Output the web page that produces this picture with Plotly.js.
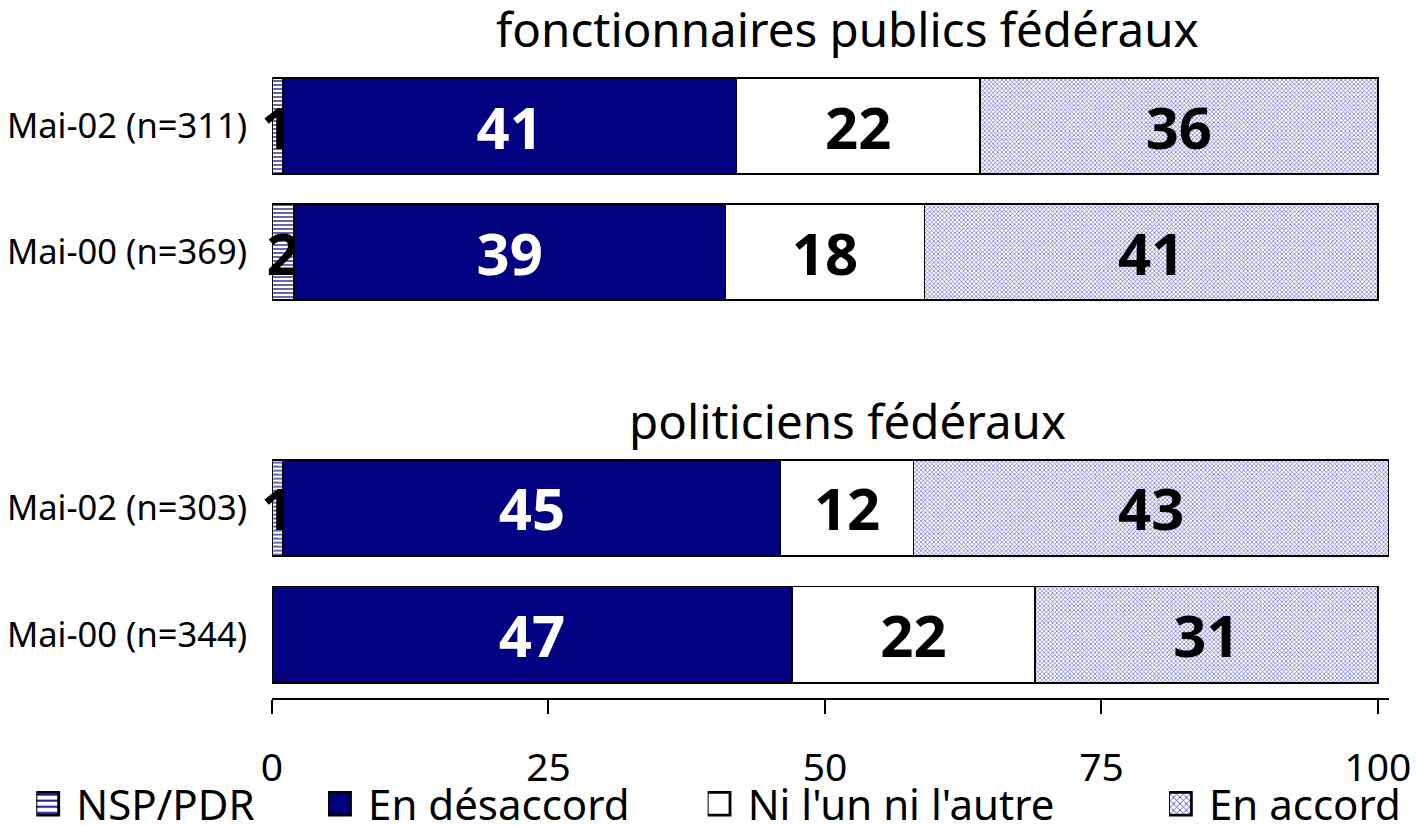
<!DOCTYPE html>
<html>
<head>
<meta charset="utf-8">
<script src="https://cdn.plot.ly/plotly-3.0.1.min.js"></script>
<style>html,body{margin:0;padding:0;background:#fff;}#chart{width:1416px;height:825px;}</style>
</head>
<body>
<div id="chart"></div>
<script>
const seriesNames = ["NSP/PDR", "En désaccord", "Ni l'un ni l'autre", "En accord"];
const titleTop = "fonctionnaires publics fédéraux";
const titleBottom = "politiciens fédéraux";
const catsTop = ["Mai-02 (n=311)", "Mai-00 (n=369)"];
const catsBottom = ["Mai-02 (n=303)", "Mai-00 (n=344)"];
const nspTop = [1, 2];
const desTop = [41, 39];
const niTop = [22, 18];
const accTop = [36, 41];
const nspBottom = [1, 0];
const desBottom = [45, 47];
const niBottom = [12, 22];
const accBottom = [43, 31];
const xTicks = [0, 25, 50, 75, 100];

const FONT = "'Noto Sans', 'Open Sans', sans-serif";
const lineStyle = {color: '#000', width: 1.5};
const styles = [
  {color: '#ffffff', pattern: {shape: '-', fgcolor: '#000080', bgcolor: '#ffffff', size: 4, solidity: 0.3}, txt: '#000'},
  {color: '#000080', txt: '#fff'},
  {color: '#ffffff', txt: '#000'},
  {color: '#ffffff', pattern: {shape: 'x', fgcolor: '#4848cc', bgcolor: '#ffffff', size: 3, solidity: 0.35}, txt: '#000'}
];
const legendNames = ['legend', 'legend2', 'legend3', 'legend4'];
const topSeries = [nspTop, desTop, niTop, accTop];
const bottomSeries = [nspBottom, desBottom, niBottom, accBottom];

function mk(vals, cats, i, yax, showleg) {
  const s = styles[i];
  const marker = {color: s.color, line: lineStyle};
  if (s.pattern) marker.pattern = s.pattern;
  return {
    type: 'bar', orientation: 'h', x: vals, y: cats, name: seriesNames[i],
    xaxis: 'x', yaxis: yax, marker: marker,
    text: vals.map(v => v > 0 ? String(v) : ''), textposition: 'inside', insidetextanchor: 'middle',
    constraintext: 'none', cliponaxis: false,
    textfont: {family: FONT, size: 58, color: s.txt, weight: 'bold'},
    showlegend: showleg, legend: legendNames[i], hoverinfo: 'skip'
  };
}
const data = [];
for (let i = 0; i < 4; i++) data.push(mk(topSeries[i], catsTop, i, 'y', true));
for (let i = 0; i < 4; i++) data.push(mk(bottomSeries[i], catsBottom, i, 'y2', false));

const legX = [-0.211, 0.0502, 0.390, 0.803];
const layout = {
  width: 1416, height: 825,
  margin: {l: 272, r: 27, t: 63, b: 127, autoexpand: false},
  paper_bgcolor: '#fff', plot_bgcolor: '#fff',
  barmode: 'stack', bargap: 0.24,
  font: {family: FONT, color: '#000'},
  xaxis: {range: [0, 101], anchor: 'y2', tickvals: xTicks, ticks: 'outside', ticklen: 14, tickwidth: 2,
          tickcolor: '#000', showline: true, linecolor: '#000', linewidth: 2, showgrid: false, zeroline: false,
          tickfont: {size: 39, family: FONT}, ticklabelstandoff: 20},
  yaxis: {domain: [0.603, 1], type: 'category', autorange: 'reversed', showgrid: false, zeroline: false,
          showline: false, ticks: '', tickfont: {size: 34.5, family: FONT}, ticklabelstandoff: 24},
  yaxis2: {domain: [0, 0.399], type: 'category', autorange: 'reversed', showgrid: false, zeroline: false,
          showline: false, ticks: '', tickfont: {size: 34.5, family: FONT}, ticklabelstandoff: 24},
  annotations: [
    {text: titleTop, xref: 'paper', yref: 'paper', x: 0.515, y: (698 - 28) / 635, xanchor: 'center', yanchor: 'middle', showarrow: false, font: {size: 47.5, family: FONT}},
    {text: titleBottom, xref: 'paper', yref: 'paper', x: 0.515, y: (698 - 420) / 635, xanchor: 'center', yanchor: 'middle', showarrow: false, font: {size: 47.5, family: FONT}}
  ],
  showlegend: true
};
legendNames.forEach((ln, i) => {
  layout[ln] = {orientation: 'h', x: legX[i], xanchor: 'left', y: (698 - 804) / 635, yanchor: 'middle',
                font: {size: 42, family: FONT}, bgcolor: 'rgba(0,0,0,0)', borderwidth: 0};
});

Plotly.newPlot('chart', data, layout, {displayModeBar: false, staticPlot: true}).then(() => {
  document.querySelectorAll('.legendpoints path').forEach(p => {
    p.setAttribute('transform', 'translate(11,0) scale(1.9)');
  });
});
</script>
</body>
</html>
